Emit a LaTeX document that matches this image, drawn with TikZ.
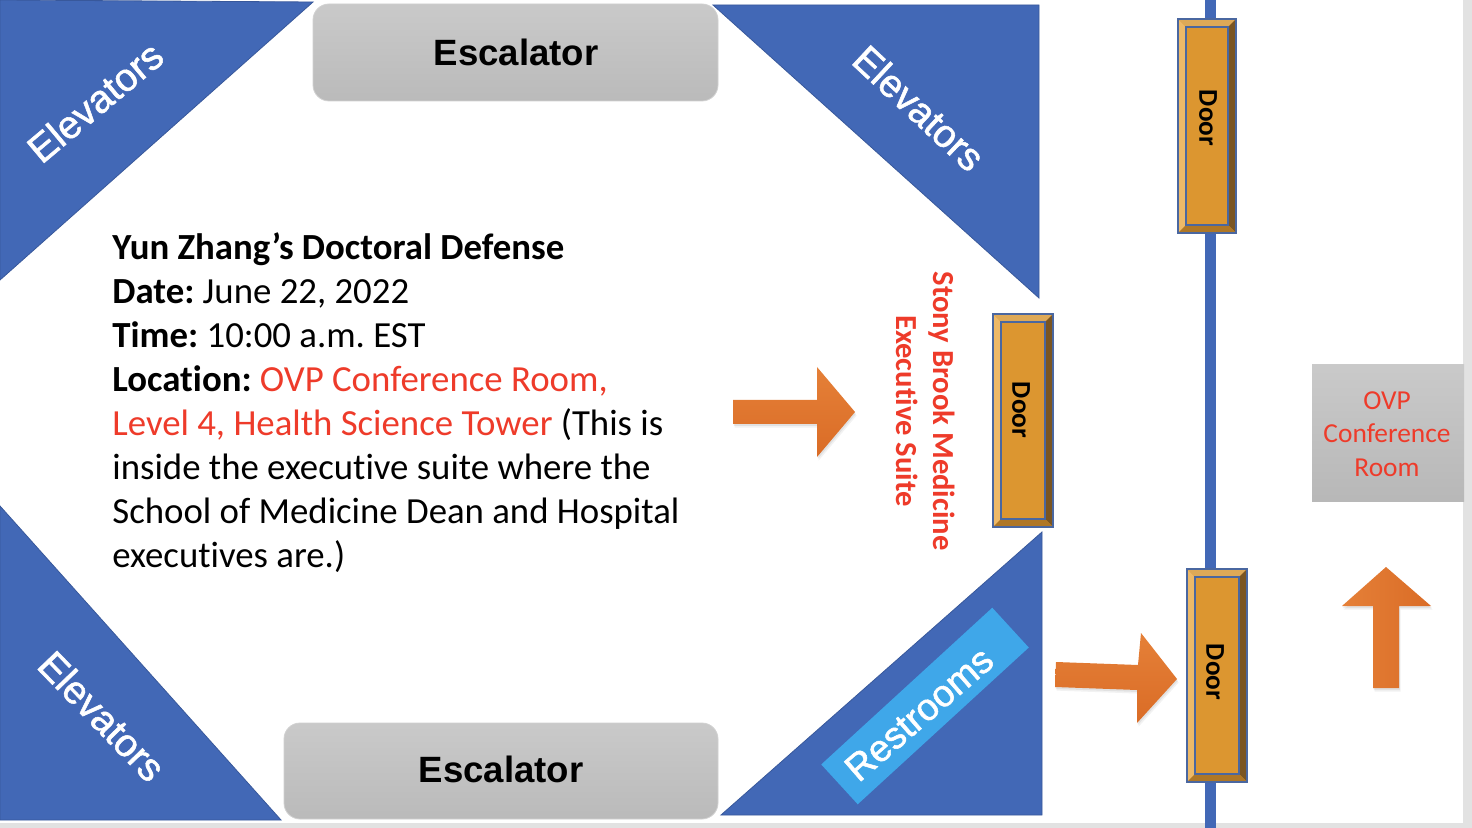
\documentclass[tikz,border=0pt]{standalone}
\usepackage{fontspec}
\setmainfont{Carlito}[Ligatures=NoCommon]
\newfontfamily\arialfont{Liberation Sans}
\newfontfamily\liftfont{Liberation Sans}[FakeBold=1.4]
\usetikzlibrary{shadows}
\definecolor{wallblue}{HTML}{4268B6}
\definecolor{linkblue}{HTML}{3FA7E9}
\definecolor{bandgray}{HTML}{E2E2E2}
\definecolor{signred}{HTML}{EE3B2A}
\definecolor{doorface}{HTML}{DC9630}
\definecolor{doorlight}{HTML}{EDB968}
\definecolor{doormid}{HTML}{AF7726}
\definecolor{doordark}{HTML}{7A5522}
\definecolor{doorline}{HTML}{4A67A0}
\definecolor{arrowtop}{HTML}{E58038}
\definecolor{arrowbottom}{HTML}{DA6C26}
\tikzset{
    elevator/.style={fill=wallblue, draw=wallblue!85!black, line width=0.4pt},
    liftlabel/.style={text=white, font=\liftfont\fontsize{19.5}{24}\selectfont},
    escalatorbox/.style={rounded corners=8pt, top color=black!21, bottom color=black!27, draw=black!18, line width=0.4pt},
    escalatorlabel/.style={font=\arialfont\bfseries\fontsize{18.3}{22}\selectfont, text=black},
    orangearrow/.style={draw=none,
        drop shadow={shadow xshift=0.8pt, shadow yshift=-1.8pt, opacity=0.10},
        drop shadow={shadow xshift=0.4pt, shadow yshift=-1pt, opacity=0.14}},
    doorlabel/.style={rotate=-90, font=\bfseries\fontsize{13.6}{16}\selectfont, text=black},
}
\begin{document}
\begin{tikzpicture}[x=0.5pt, y=-0.5pt]
    \useasboundingbox (0,0) rectangle (1472,828);
    \fill[white] (0,0) rectangle (1472,828);
    \fill[bandgray] (1463,0) rectangle (1472,828);
    \fill[bandgray] (0,823) rectangle (1472,828);

    % corner walls
    \draw[elevator] (0,0) -- (313,2) -- (0,280) -- cycle;
    \draw[elevator] (713,5) -- (1039,5) -- (1039,298) -- cycle;
    \draw[elevator] (0,506) -- (281,820) -- (0,820) -- cycle;
    \draw[elevator] (1042,532) -- (1042,815) -- (721,815) -- cycle;

    \node[liftlabel, rotate=40] (liftNW) at (95,102) {Elevators};
    \node[liftlabel, rotate=-43] (liftNE) at (919,108) {Elevators};
    \node[liftlabel, rotate=-46] (liftSW) at (102,716) {Elevators};

    \node[fill=linkblue, minimum width=116pt, minimum height=27pt, rotate=42.5] (restrooms) at (925,706) {};
    \node[rotate=41, text=white, font=\liftfont\fontsize{18.8}{22}\selectfont] (restroomslabel) at (919,714) {Restrooms};

    % escalators
    \draw[escalatorbox] (313,4) rectangle (718,101);
    \node[escalatorlabel] (escalatorN) at (516,52) {Escalator};
    \draw[escalatorbox] (284,723) rectangle (718,819);
    \node[escalatorlabel] (escalatorS) at (501,769) {Escalator};

    % hallway line
    \fill[wallblue] (1205,0) rectangle (1216,828);

    % doors
    \foreach \doorname/\xa/\ya/\xb/\yb/\tx/\ty in {A/1178/19/1236/233/1208/118, B/993/314/1053/527/1021/410, C/1187/569/1247/782/1215/672} {
        \fill[doorface] (\xa,\ya) rectangle (\xb,\yb);
        \fill[doorlight] (\xa,\ya) -- (\xa+8,\ya+8) -- (\xa+8,\yb-8) -- (\xa,\yb) -- cycle;
        \fill[doorlight!75!doormid] (\xa,\ya) -- (\xb,\ya) -- (\xb-8,\ya+8) -- (\xa+8,\ya+8) -- cycle;
        \fill[doordark] (\xb,\ya) -- (\xb,\yb) -- (\xb-8,\yb-8) -- (\xb-8,\ya+8) -- cycle;
        \fill[doormid] (\xa,\yb) -- (\xb,\yb) -- (\xb-8,\yb-8) -- (\xa+8,\yb-8) -- cycle;
        \draw[doorline, line width=0.6pt] (\xa,\ya) rectangle (\xb,\yb);
        \draw[doorline, line width=0.6pt] (\xa+8,\ya+8) rectangle (\xb-8,\yb-8);
        \node[doorlabel] (door\doorname) at (\tx,\ty) {Door};
    }

    % arrows
    \path[orangearrow, top color=arrowtop, bottom color=arrowbottom] (733,400) -- (817,400) -- (817,367) -- (855,412) -- (817,457) -- (817,424) -- (733,424) -- cycle;
    \path[orangearrow, top color=arrowtop, bottom color=arrowbottom] (1056,662) -- (1138,665) -- (1141,633) -- (1177,679) -- (1137,723) -- (1137,690) -- (1055,687) -- cycle;
    \path[orangearrow, left color=arrowtop, right color=arrowbottom] (1386,567) -- (1431,606) -- (1399,606) -- (1399,688) -- (1373,688) -- (1373,606) -- (1342,606) -- cycle;

    % room
    \fill[top color=black!21, bottom color=black!28] (1312,365) rectangle (1464,501);
    \node[align=center, text=signred, font=\fontsize{13.7}{16.7}\selectfont] (ovproom) at (1387,434) {OVP\\Conference\\Room};

    \node[rotate=-90, align=center, text=signred, font=\bfseries\fontsize{15.3}{18.5}\selectfont] (suite) at (926,411) {Stony Brook Medicine\\Executive Suite};

    % defense details
    \node[anchor=north west, inner sep=0pt, align=left, font=\frenchspacing\fontsize{18.4}{22}\selectfont] (details) at (112,232) {%
        \textbf{Yun Zhang’s Doctoral Defense}\\
        \textbf{Date:} June 22, 2022\\
        \textbf{Time:} 10:00 a.m. EST\\
        \textbf{Location:} \textcolor{signred}{OVP Conference Room,}\\
        \textcolor{signred}{Level 4, Health Science Tower} (This is\\
        inside the executive suite where the\\
        School of Medicine Dean and Hospital\\
        executives are.)};
\end{tikzpicture}
\end{document}
